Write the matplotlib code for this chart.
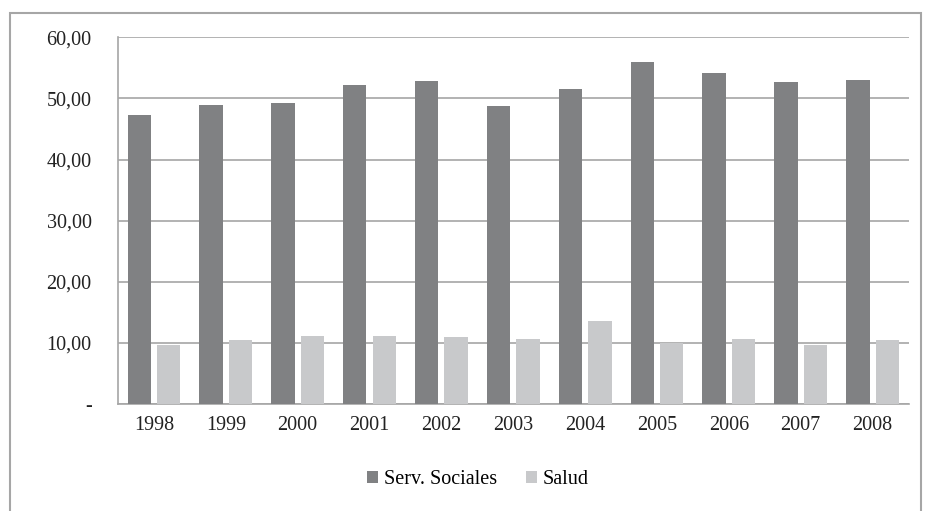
import numpy as np
import matplotlib.pyplot as plt
from matplotlib.patches import Rectangle

years = ['1998', '1999', '2000', '2001', '2002', '2003', '2004', '2005', '2006', '2007', '2008']
serv_sociales = [47.3, 48.9, 49.3, 52.2, 52.9, 48.8, 51.5, 56.0, 54.2, 52.7, 53.0]
salud = [9.7, 10.4, 11.1, 11.2, 10.9, 10.7, 13.6, 10.0, 10.7, 9.7, 10.5]
y_ticks = [0, 10, 20, 30, 40, 50, 60]
y_labels = ['-', '10,00', '20,00', '30,00', '40,00', '50,00', '60,00']

plt.rcParams['font.family'] = ['Liberation Serif', 'DejaVu Serif']

fig = plt.figure(figsize=(9.31, 5.11), dpi=100)
ax = fig.add_axes([118 / 931, 1 - 404 / 511, 790.5 / 931, 366.7 / 511])

x = np.arange(len(years))
w = 0.325
ax.bar(x - 0.205, serv_sociales, w, color='#808183', label='Serv. Sociales', zorder=3)
ax.bar(x + 0.205, salud, w, color='#c8c9cb', label='Salud', zorder=3)

ax.set_xlim(-0.5, len(years) - 0.5)
ax.set_ylim(0, 60)
ax.set_yticks(y_ticks)
ax.set_yticklabels(y_labels)
ax.set_xticks(x)
ax.set_xticklabels(years)
ax.tick_params(axis='both', length=0, labelsize=14.5, colors='#222222')
ax.tick_params(axis='y', pad=19)
ax.tick_params(axis='x', pad=9)
ax.grid(axis='y', color='#a6a6a6', linewidth=1.2, zorder=0)
for s in ['top', 'right']:
    ax.spines[s].set_visible(False)
for s in ['left', 'bottom']:
    ax.spines[s].set_color('#a6a6a6')
    ax.spines[s].set_linewidth(1.2)

fig.legend(loc='center', bbox_to_anchor=(478 / 931, 1 - 480 / 511), ncol=2, frameon=False,
           fontsize=14.5, handlelength=0.55, handleheight=0.55, handletextpad=0.3, columnspacing=1.4)

# outer chart border
fig.patches.append(Rectangle((10 / 931, -0.05), 911 / 931, 1.05 - 13 / 511, transform=fig.transFigure,
                             fill=False, edgecolor='#a6a6a6', linewidth=1.5))

fig.savefig('out.png', dpi=100)
